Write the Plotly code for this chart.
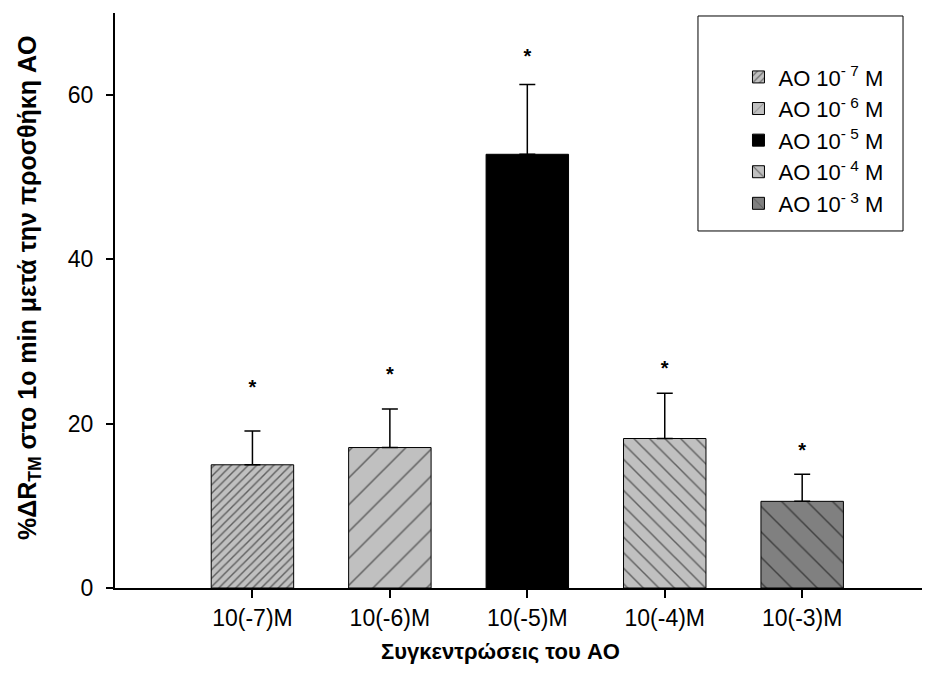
import plotly.graph_objects as go

categories = ["10(-7)M", "10(-6)M", "10(-5)M", "10(-4)M", "10(-3)M"]
legend_names = ["AO 10<sup>- 7</sup> M", "AO 10<sup>- 6</sup> M", "AO 10<sup>- 5</sup> M",
                "AO 10<sup>- 4</sup> M", "AO 10<sup>- 3</sup> M"]
means = [15.0, 17.1, 52.8, 18.2, 10.55]
sem = [4.1, 4.7, 8.5, 5.5, 3.3]
star_y = [24.2, 25.8, 64.5, 26.6, 16.5]

fills = ["#c0c0c0", "#c0c0c0", "#000000", "#c0c0c0", "#808080"]
shapes = ["/", "/", "", "\\", "\\"]
psizes = [6, 19, 8, 11, 18]
solid = [0.24, 0.08, 0.2, 0.13, 0.08]

FONT = "Liberation Sans, Arial, sans-serif"
pos = list(range(1, len(categories) + 1))

fig = go.Figure()
for i in range(len(categories)):
    fig.add_trace(go.Bar(
        x=[pos[i]], y=[means[i]], name=legend_names[i], width=0.6,
        marker=dict(color=fills[i], line=dict(color="black", width=1),
                    pattern=dict(shape=shapes[i], size=psizes[i], solidity=solid[i],
                                 fgcolor="black", bgcolor=fills[i], fillmode="overlay")),
        error_y=dict(type="data", array=[sem[i]], arrayminus=[0], symmetric=False,
                     color="black", thickness=1.5, width=8),
    ))

fig.add_trace(go.Scatter(x=pos, y=star_y, mode="text", text=["<b>*</b>"] * len(pos),
                         textfont=dict(family=FONT, size=20, color="black"),
                         showlegend=False, hoverinfo="skip"))

fig.update_layout(
    width=922, height=676,
    margin=dict(l=107, r=0, t=5, b=96),
    paper_bgcolor="white", plot_bgcolor="white",
    barmode="overlay",
    font=dict(family=FONT, size=22, color="black"),
    showlegend=True,
    legend=dict(x=0.765, y=0.925, xanchor="left", yanchor="top",
                bgcolor="rgba(0,0,0,0)", borderwidth=0, tracegroupgap=0,
                font=dict(family=FONT, size=22, color="black")),
    shapes=[dict(type="rect", xref="paper", yref="paper",
                 x0=0.7153, x1=0.9669, y0=0.6209, y1=0.9948,
                 line=dict(color="black", width=1), fillcolor="rgba(0,0,0,0)")],
    annotations=[
        dict(text="<b>Συγκεντρώσεις του AO</b>", xref="paper", yref="paper",
             x=0.4736, y=-0.1096, showarrow=False, xanchor="center", yanchor="middle",
             font=dict(family=FONT, size=22, color="black")),
        dict(text="<b>%ΔR<sub>TM</sub> στο 1ο min μετά την προσθήκη AO</b>", xref="paper", yref="paper",
             x=-0.1055, y=0.5217, showarrow=False, textangle=-90, xanchor="center", yanchor="middle",
             font=dict(family=FONT, size=25, color="black")),
    ],
)

fig.update_xaxes(range=[0, 5.93], tickmode="array", tickvals=pos, ticktext=categories,
                 showline=True, linecolor="black", linewidth=2, ticks="outside", ticklen=8,
                 tickwidth=1.5, tickcolor="black", showgrid=False, zeroline=False,
                 tickfont=dict(family=FONT, size=23, color="black"))
fig.update_yaxes(range=[0, 70], tickvals=[0, 20, 40, 60],
                 showline=True, linecolor="black", linewidth=2, ticks="outside", ticklen=7,
                 tickwidth=1.5, tickcolor="black", showgrid=False, zeroline=False,
                 ticklabelstandoff=8,
                 tickfont=dict(family=FONT, size=23, color="black"))

fig.write_html("out.html")
